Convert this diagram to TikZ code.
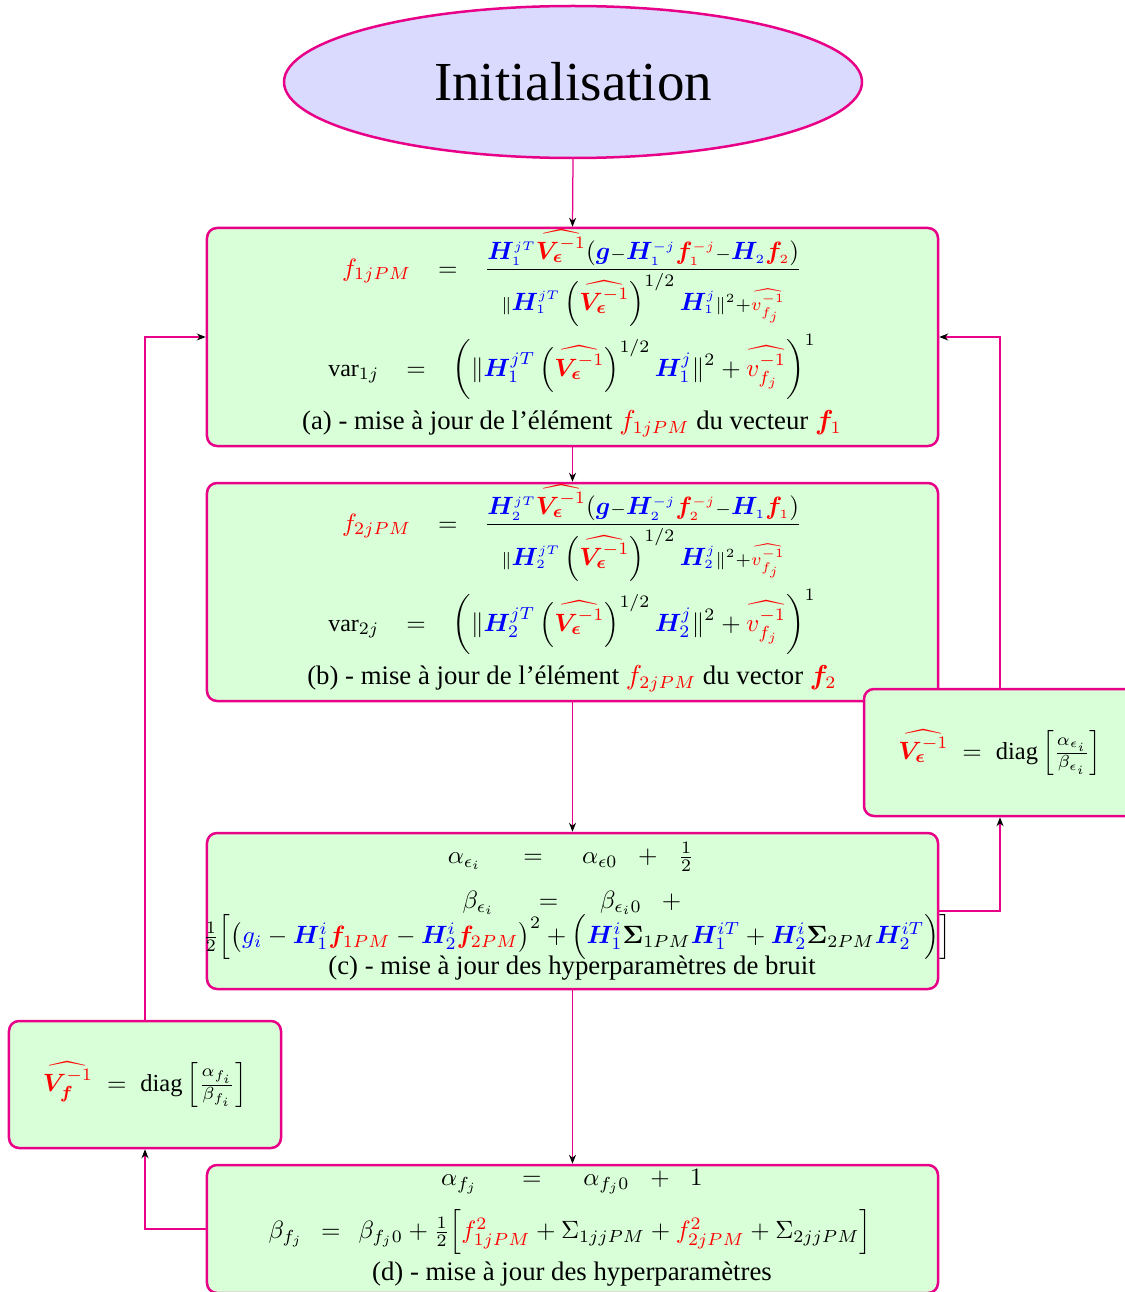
\documentclass[tikz,border=0pt]{standalone}
\usepackage{amsmath}
\usepackage{fontspec}
\setmainfont{Liberation Serif}
\usepackage{bm}
\usetikzlibrary{shapes.geometric,arrows.meta}
\definecolor{edgec}{RGB}{232,0,136}
\definecolor{boxfill}{RGB}{217,255,217}
\definecolor{ellfill}{RGB}{218,218,255}
\newcommand{\HH}[1]{{\color{blue}\bm{H}#1}}
\newcommand{\FF}[1]{{\color{red}\bm{f}#1}}
\newcommand{\gB}{{\color{blue}\bm{g}}}
\newcommand{\Veps}{{\color{red}\widehat{\bm{V}_{\bm\epsilon}^{-1}}}}
\newcommand{\Vff}{{\color{red}\widehat{\bm{V}_{\bm f}^{-1}}}}
\newcommand{\vfj}{{\color{red}\widehat{v_{f_j}^{-1}}}}
\newcommand{\sss}[1]{{\scriptscriptstyle #1}}
\begin{document}
\begin{tikzpicture}[x=0.4pt,y=-0.4pt,font=\fontsize{10.7}{13}\selectfont,
  box/.style={draw=edgec,line width=1pt,fill=boxfill,rounded corners=4pt,minimum width=292.4pt,inner sep=0pt},
  smallbox/.style={box,minimum width=108.8pt,minimum height=50.8pt,font=\fontsize{9.8}{12}\selectfont},
  conn/.style={draw=edgec,line width=0.5pt,-{Stealth[length=3.6pt,width=2.8pt,black]}},
  txt/.style={inner sep=0pt},
  mth/.style={inner sep=0pt,font=\fontsize{9.6}{11.5}\selectfont},
  mthb/.style={inner sep=0pt,font=\fontsize{10}{12}\selectfont}]
\useasboundingbox (0,0) rectangle (1125,1292);
% boxes
\node[ellipse,draw=edgec,line width=1pt,fill=ellfill,minimum width=231.2pt,minimum height=60.8pt,inner sep=0pt,font=\fontsize{22}{26}\selectfont] (init) at (573,82) {Initialisation};
\node[box,minimum height=87.2pt] (boxa) at (572.5,337) {};
\node[box,minimum height=87.2pt] (boxb) at (572.5,592) {};
\node[box,minimum height=62.4pt] (boxc) at (572.5,911) {};
\node[box,minimum height=51.2pt] (boxd) at (572.5,1229) {};
\node[smallbox] (veps) at (1000,752.5) {$\Veps\;=\;\mathrm{diag}\left[\tfrac{\alpha_{\epsilon_i}}{\beta_{\epsilon_i}}\right]$};
\node[smallbox] (vf) at (145,1084.5) {$\Vff\;=\;\mathrm{diag}\left[\tfrac{\alpha_{f_i}}{\beta_{f_i}}\right]$};
% box a
\node[mth] (a1) at (572,278) {$\displaystyle {\color{red}f_{1jPM}}\hspace{8pt}=\hspace{8pt}\frac{\HH{_{\sss1}^{\sss{jT}}}\Veps(\gB{\scriptstyle-}\HH{_{\sss1}^{\sss{-j}}}\FF{_{\sss1}^{\sss{-j}}}{\scriptstyle-}\HH{_{\sss2}}\FF{_{\sss2}})}{{\scriptstyle\|}\HH{_{\sss1}^{\sss{jT}}}\left(\Veps\right)^{1/2}\HH{_{\sss1}^{\sss j}}{\scriptstyle\|^2+\vfj}}$};
\node[mth] (a2) at (572,367) {$\displaystyle \mathrm{var}_{1j}\hspace{8pt}=\hspace{8pt}\left(\|\HH{_1^{jT}}\left(\Veps\right)^{1/2}\HH{_1^j}\|^2+\vfj\right)^1$};
\node[txt] (a3) at (572,424) {(a) - mise à jour de l'élément {\color{red}$f_{1jPM}$} du vecteur {\color{red}$\bm{f}_1$}};
% box b
\node[mth] (b1) at (572,533) {$\displaystyle {\color{red}f_{2jPM}}\hspace{8pt}=\hspace{8pt}\frac{\HH{_{\sss2}^{\sss{jT}}}\Veps(\gB{\scriptstyle-}\HH{_{\sss2}^{\sss{-j}}}\FF{_{\sss2}^{\sss{-j}}}{\scriptstyle-}\HH{_{\sss1}}\FF{_{\sss1}})}{{\scriptstyle\|}\HH{_{\sss2}^{\sss{jT}}}\left(\Veps\right)^{1/2}\HH{_{\sss2}^{\sss j}}{\scriptstyle\|^2+\vfj}}$};
\node[mth] (b2) at (572,622) {$\displaystyle \mathrm{var}_{2j}\hspace{8pt}=\hspace{8pt}\left(\|\HH{_2^{jT}}\left(\Veps\right)^{1/2}\HH{_2^j}\|^2+\vfj\right)^1$};
\node[txt] (b3) at (572,679) {(b) - mise à jour de l'élément {\color{red}$f_{2jPM}$} du vector {\color{red}$\bm{f}_2$}};
% box c
\node[mthb] (c1) at (571,857) {$\alpha_{\epsilon_i}\hspace{14pt}=\hspace{13pt}\alpha_{\epsilon0}\hspace{6pt}+\hspace{6pt}\tfrac12$};
\node[mthb] (c2) at (572,903) {$\beta_{\epsilon_i}\hspace{15pt}=\hspace{14pt}\beta_{\epsilon_i0}\hspace{8pt}+$};
\node[mthb] (c3) at (577,937) {$\tfrac12\Bigl[\bigl({\color{blue}g_i}-\HH{_1^i}\FF{_{1PM}}-\HH{_2^i}\FF{_{2PM}}\bigr)^2+\Bigl(\HH{_1^i}\bm{\Sigma}_{1PM}\HH{_1^{iT}}+\HH{_2^i}\bm{\Sigma}_{2PM}\HH{_2^{iT}}\Bigr)\Bigr]$};
\node[txt] (c4) at (572,968) {(c) - mise à jour des hyperparamètres de bruit};
% box d
\node[mthb] (d1) at (572,1182) {$\alpha_{f_j}\hspace{15pt}=\hspace{14pt}\alpha_{f_j0}\hspace{6pt}+\hspace{6pt}1$};
\node[mthb] (d2) at (570,1232) {$\beta_{f_j}\;\,=\;\,\beta_{f_j0}+\tfrac12\Bigl[{\color{red}f^2_{1jPM}}+\Sigma_{1jjPM}+{\color{red}f^2_{2jPM}}+\Sigma_{2jjPM}\Bigr]$};
\node[txt] (d3) at (572,1274) {(d) - mise à jour des hyperparamètres};
% connectors
\draw[conn] (init.south) -- (boxa.north);
\draw[conn] (boxa.south) -- (boxb.north);
\draw[conn] (boxb.south) -- (boxc.north);
\draw[conn] (boxc.south) -- (boxd.north);
\draw[conn] (boxc.east) -| (veps.south);
\draw[conn] (veps.north) |- (boxa.east);
\draw[conn] (boxd.west) -| (vf.south);
\draw[conn] (vf.north) |- (boxa.west);
\end{tikzpicture}
\end{document}
